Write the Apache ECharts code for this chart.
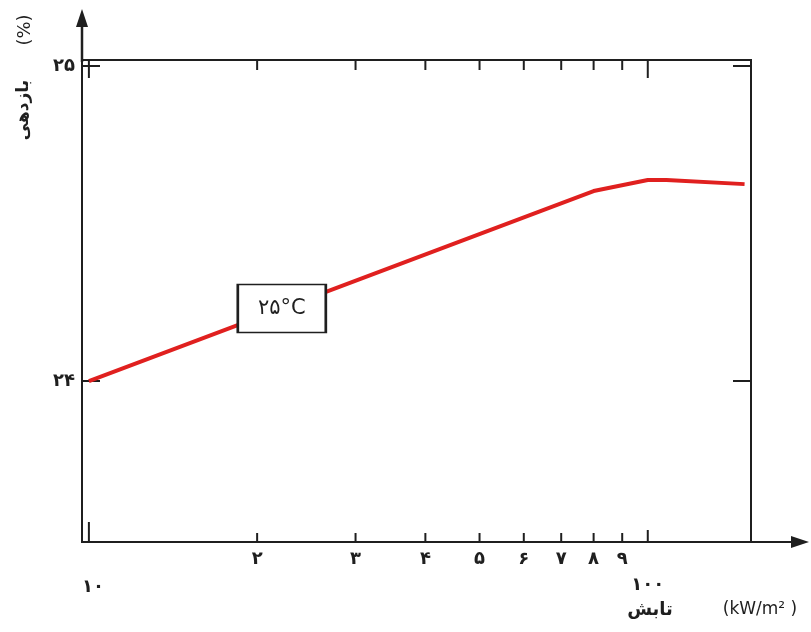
<!DOCTYPE html>
<html>
<head>
<meta charset="utf-8">
<script src="https://cdn.jsdelivr.net/npm/echarts@6/dist/echarts.min.js"></script>
<style>html,body{margin:0;padding:0;background:#fff;}#c{width:811px;height:632px;}</style>
</head>
<body>
<div id="c"></div>
<script>
// ---- data ----
const xMin = 9.72, xMax = 153;
const yMin = 23.489, yMax = 25.019;
const irradiance = [10, 80, 100, 108, 149];
const efficiency = [24.0, 24.603, 24.638, 24.638, 24.625];
const xTickValues = [10, 20, 30, 40, 50, 60, 70, 80, 90, 100];
const xTickLabels = ['۱۰', '۲', '۳', '۴', '۵', '۶', '۷', '۸', '۹', '۱۰۰'];
const yTickValues = [24, 25];
const yTickLabels = ['۲۴', '۲۵'];
const curveName = '۲۵°C';
const curveLabelAt = [22.14, 24.23];
const yTitle = 'بازدهی';
const yUnit = '(%)';
const xTitle = 'تابش';
const xUnit = '(kW/m² )';

const FONT = '"DejaVu Sans", sans-serif';
const INK = '#1f1f1f';

const chart = echarts.init(document.getElementById('c'));
chart.setOption({
  backgroundColor: '#fff',
  animation: false,
  textStyle: { fontFamily: FONT },
  grid: { left: 82, top: 60, width: 669, height: 482, show: true, borderColor: INK, borderWidth: 2, backgroundColor: 'transparent' },
  xAxis: {
    type: 'log', logBase: 10, min: xMin, max: xMax,
    axisLine: { show: false }, axisTick: { show: false }, axisLabel: { show: false }, splitLine: { show: false }
  },
  yAxis: {
    type: 'value', min: yMin, max: yMax,
    axisLine: { show: false }, axisTick: { show: false }, axisLabel: { show: false }, splitLine: { show: false }
  },
  graphic: [
    { type: 'line', shape: { x1: 82, y1: 62, x2: 82, y2: 24 }, style: { stroke: INK, lineWidth: 2.5 } },
    { type: 'polygon', shape: { points: [[82, 9], [76, 27], [88, 27]] }, style: { fill: INK } },
    { type: 'line', shape: { x1: 750, y1: 542, x2: 794, y2: 542 }, style: { stroke: INK, lineWidth: 2 } },
    { type: 'polygon', shape: { points: [[809, 542], [791, 536], [791, 548]] }, style: { fill: INK } },
    { type: 'text', x: 25, y: 30, rotation: Math.PI / 2, style: { text: yUnit, font: '18px ' + FONT, fill: INK, align: 'center', verticalAlign: 'middle' } },
    { type: 'text', x: 24, y: 110, rotation: Math.PI / 2, style: { text: yTitle, font: 'bold 17px ' + FONT, fill: INK, align: 'center', verticalAlign: 'middle' } },
    { type: 'text', x: 650, y: 610, style: { text: xTitle, font: 'bold 18px ' + FONT, fill: INK, align: 'center', verticalAlign: 'middle' } },
    { type: 'text', x: 760, y: 610, style: { text: xUnit, font: '17px ' + FONT, fill: INK, align: 'center', verticalAlign: 'middle' } }
  ],
  series: [
    {
      type: 'line',
      data: irradiance.map((x, i) => [x, efficiency[i]]),
      showSymbol: false,
      symbol: 'none',
      lineStyle: { color: '#e0201f', width: 4 },
      z: 3,
      markPoint: {
        symbol: 'rect',
        symbolSize: [88, 48],
        itemStyle: { color: '#fff', borderColor: INK, borderWidth: 2 },
        label: { show: true, position: 'inside', formatter: curveName, color: INK, fontSize: 21, fontFamily: FONT },
        data: [{ coord: curveLabelAt }]
      }
    },
    {
      type: 'custom',
      clip: false,
      silent: true,
      data: xTickValues.map(v => [v, yMin]),
      renderItem: function (params, api) {
        const v = api.value(0);
        const b = api.coord([v, yMin]);
        const t = api.coord([v, yMax]);
        const bl = v === 10 ? 20 : (v === 100 ? 12 : 9);
        const tl = (v === 10 || v === 100) ? 18 : 10;
        const ly = v === 10 ? b[1] + 45 : (v === 100 ? b[1] + 43 : b[1] + 17);
        const lx = v === 10 ? b[0] + 4 : b[0];
        return {
          type: 'group',
          children: [
            { type: 'line', shape: { x1: b[0], y1: b[1], x2: b[0], y2: b[1] - bl }, style: { stroke: INK, lineWidth: 2 } },
            { type: 'line', shape: { x1: t[0], y1: t[1], x2: t[0], y2: t[1] + tl }, style: { stroke: INK, lineWidth: 2 } },
            { type: 'text', x: lx, y: ly, style: { text: xTickLabels[params.dataIndex], font: 'bold 18px ' + FONT, fill: INK, align: 'center', verticalAlign: 'middle' } }
          ]
        };
      }
    },
    {
      type: 'custom',
      clip: false,
      silent: true,
      data: yTickValues.map(v => [xMin, v]),
      renderItem: function (params, api) {
        const v = api.value(1);
        const l = api.coord([xMin, v]);
        const r = api.coord([xMax, v]);
        return {
          type: 'group',
          children: [
            { type: 'line', shape: { x1: l[0], y1: l[1], x2: l[0] + 18, y2: l[1] }, style: { stroke: INK, lineWidth: 2 } },
            { type: 'line', shape: { x1: r[0], y1: r[1], x2: r[0] - 18, y2: r[1] }, style: { stroke: INK, lineWidth: 2 } },
            { type: 'text', x: l[0] - 7, y: l[1], style: { text: yTickLabels[params.dataIndex], font: 'bold 18px ' + FONT, fill: INK, align: 'right', verticalAlign: 'middle' } }
          ]
        };
      }
    }
  ]
});
</script>
</body>
</html>
